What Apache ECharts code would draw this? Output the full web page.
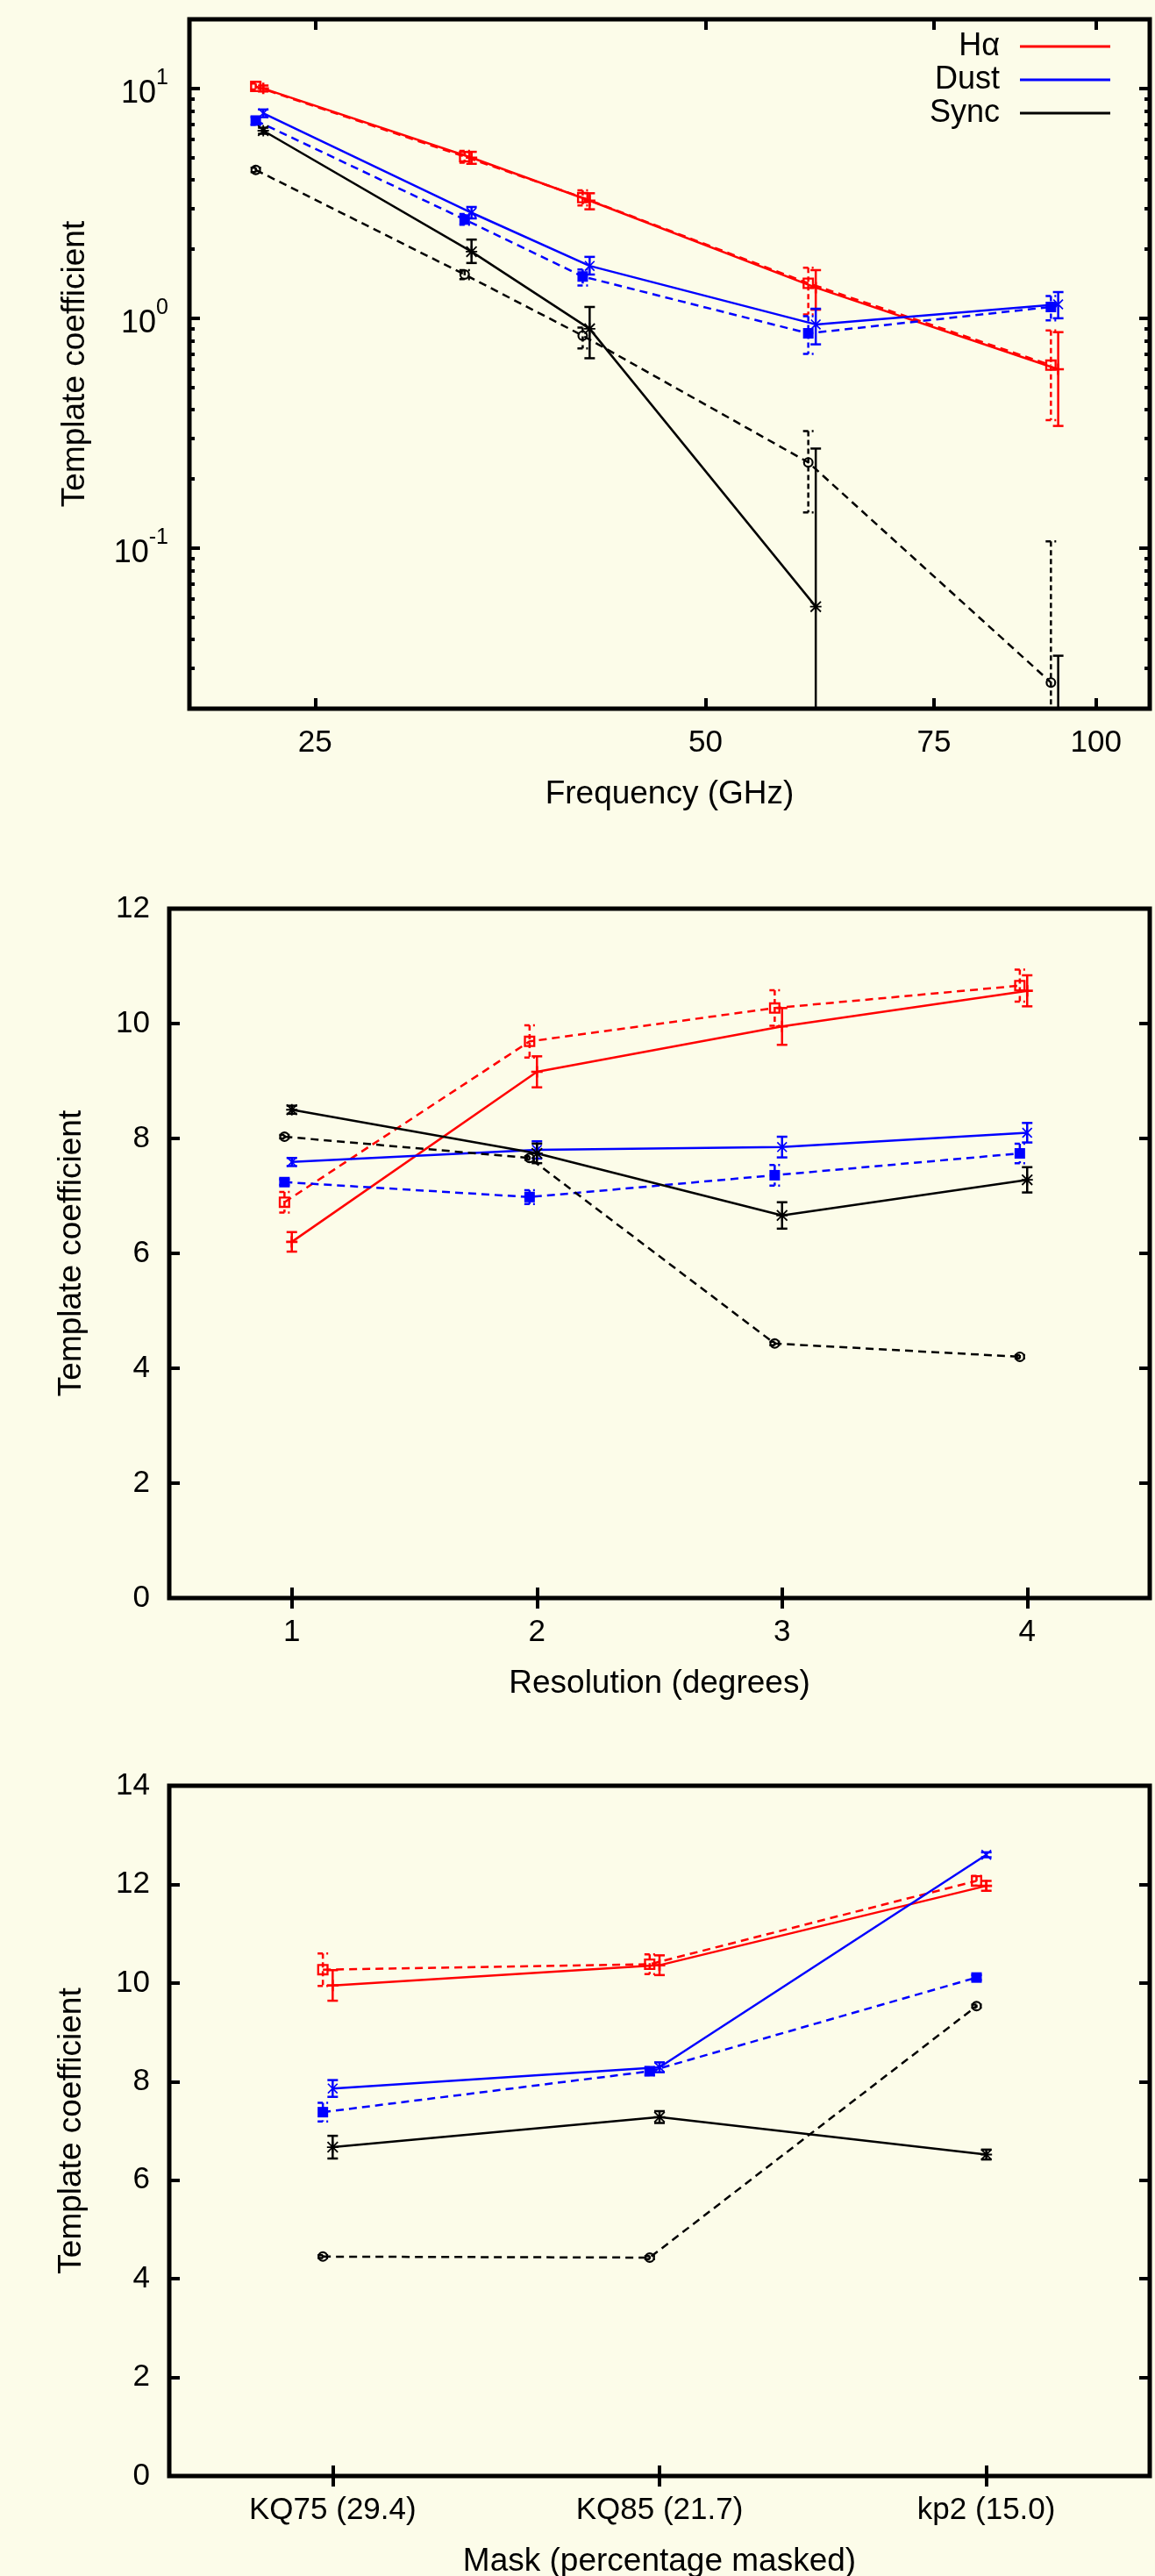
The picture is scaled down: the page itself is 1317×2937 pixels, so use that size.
<!DOCTYPE html>
<html>
<head>
<meta charset="utf-8">
<script src="https://cdn.jsdelivr.net/npm/echarts@6/dist/echarts.min.js"></script>
<style>
html, body { margin: 0; padding: 0; background: #fcfce9; }
#chart { width: 1317px; height: 2937px; }
</style>
</head>
<body>
<div id="chart"></div>
<script>
// panel 1: coefficient vs frequency (solid = main fit, dashed = second fit)
var freqSolid = [22.8, 33.0, 40.7, 60.8, 93.5];
var freqDashed = [22.5, 32.6, 40.2, 60.0, 92.3];
var freqTicks = [25, 50, 75, 100];
var coefTicks = [0.1, 1, 10];
var coefMinorTicks = [0.03, 0.04, 0.05, 0.06, 0.07, 0.08, 0.09,
                      0.2, 0.3, 0.4, 0.5, 0.6, 0.7, 0.8, 0.9,
                      2, 3, 4, 5, 6, 7, 8, 9];

var haFreq = [10.0, 5.0, 3.25, 1.36, 0.60];
var haFreqLo = [9.7, 4.7, 2.98, 1.09, 0.34];
var haFreqHi = [10.3, 5.3, 3.5, 1.62, 0.87];
var haFreqB = [10.2, 5.05, 3.35, 1.42, 0.625];
var haFreqBLo = [9.9, 4.75, 3.1, 1.04, 0.36];
var haFreqBHi = [10.5, 5.35, 3.6, 1.66, 0.885];

var dustFreq = [7.8, 2.88, 1.69, 0.94, 1.15];
var dustFreqLo = [7.5, 2.72, 1.55, 0.77, 1.0];
var dustFreqHi = [8.1, 3.05, 1.85, 1.10, 1.30];
var dustFreqB = [7.25, 2.69, 1.52, 0.86, 1.12];
var dustFreqBLo = [6.95, 2.55, 1.39, 0.70, 0.98];
var dustFreqBHi = [7.5, 2.84, 1.63, 1.02, 1.25];

var syncFreq = [6.55, 1.95, 0.90, 0.0556, null];
var syncFreqLo = [6.35, 1.74, 0.67, 0.005, 0.005];
var syncFreqHi = [6.75, 2.2, 1.12, 0.271, 0.034];
var syncFreqB = [4.42, 1.55, 0.84, 0.236, 0.026];
var syncFreqBLo = [4.32, 1.48, 0.74, 0.143, 0.005];
var syncFreqBHi = [4.52, 1.62, 0.91, 0.323, 0.107];

// panel 2: coefficient vs resolution
var resSolid = [1, 2, 3, 4];
var resDashed = [0.97, 1.97, 2.97, 3.97];
var resTicks = [1, 2, 3, 4];
var haRes = [6.2, 9.16, 9.95, 10.57];
var haResErr = [0.17, 0.27, 0.32, 0.27];
var haResB = [6.89, 9.69, 10.27, 10.66];
var haResBErr = [0.18, 0.28, 0.31, 0.28];
var dustRes = [7.59, 7.80, 7.85, 8.10];
var dustResErr = [0.07, 0.15, 0.18, 0.17];
var dustResB = [7.24, 6.98, 7.36, 7.74];
var dustResBErr = [0.05, 0.12, 0.18, 0.17];
var syncRes = [8.50, 7.74, 6.66, 7.28];
var syncResErr = [0.07, 0.17, 0.23, 0.22];
var syncResB = [8.03, 7.66, 4.43, 4.20];
var syncResBErr = [0.03, 0.03, 0.03, 0.03];

// panel 3: coefficient vs mask
var maskLabels = ['KQ75 (29.4)', 'KQ85 (21.7)', 'kp2 (15.0)'];
var maskSolid = [1, 2, 3];
var maskDashed = [0.97, 1.97, 2.97];
var haMask = [9.95, 10.36, 11.97];
var haMaskErr = [0.31, 0.2, 0.1];
var haMaskB = [10.27, 10.38, 12.07];
var haMaskBErr = [0.33, 0.2, 0.1];
var dustMask = [7.86, 8.29, 12.6];
var dustMaskErr = [0.17, 0.1, 0.05];
var dustMaskB = [7.38, 8.21, 10.11];
var dustMaskBErr = [0.19, 0.08, 0.05];
var syncMask = [6.67, 7.28, 6.52];
var syncMaskErr = [0.23, 0.12, 0.1];
var syncMaskB = [4.45, 4.43, 9.53];
var syncMaskBErr = [0.03, 0.03, 0.03];

var RED = '#ff0000', BLUE = '#0000ff', BLACK = '#000000';
var FONT = '"Liberation Sans", Arial, Helvetica, sans-serif';
var BG = '#fcfce9';

// gnuplot-like point types
var PLUS = 'path://M4,0H6V10H4Z M0,4H10V6H0Z';
var CROSS = 'path://M0,1L1,0L10,9L9,10Z M9,0L10,1L1,10L0,9Z';
var STAR = 'path://M4.3,0H5.7V10H4.3Z M0,4.3H10V5.7H0Z M0,1L1,0L10,9L9,10Z M9,0L10,1L1,10L0,9Z';
var OPEN_SQ = 'path://M0,0H10V10H0Z M1.8,1.8V8.2H8.2V1.8Z';
var OPEN_CIRC = 'path://M5,0A5,5 0 1,1 5,10A5,5 0 1,1 5,0Z M5,1.8A3.2,3.2 0 1,0 5,8.2A3.2,3.2 0 1,0 5,1.8Z';

var textBase = { fontFamily: FONT, fontSize: 37, color: '#000' };

function zip(xs, ys) {
    return xs.map(function (x, i) { return [x, ys[i]]; });
}
function minus(v, e) { return v.map(function (a, i) { return a - e[i]; }); }
function plus(v, e) { return v.map(function (a, i) { return a + e[i]; }); }

function lineSeries(name, xs, ys, g, yIdx, color, dashed, symbol, size) {
    return {
        name: name, type: 'line', xAxisIndex: 2 * g, yAxisIndex: yIdx,
        data: zip(xs, ys),
        symbol: symbol, symbolSize: size || 13,
        itemStyle: { color: color },
        lineStyle: { color: color, width: 2.5, type: dashed ? [9, 6] : 'solid' },
        silent: true, z: 3
    };
}

function errorSeries(xs, lo, hi, g, yIdx, color, dashed) {
    return {
        type: 'custom', xAxisIndex: 2 * g, yAxisIndex: yIdx,
        clip: true, silent: true, z: 2,
        encode: { x: 0, y: [1, 2] },
        data: xs.map(function (x, i) { return [x, lo[i], hi[i]]; }),
        renderItem: function (params, api) {
            var top = api.coord([api.value(0), api.value(2)]);
            var bot = api.coord([api.value(0), api.value(1)]);
            var w = 6;
            var style = { stroke: color, lineWidth: 2.5, lineDash: dashed ? [6, 4] : null, fill: null };
            return {
                type: 'group',
                children: [
                    { type: 'line', shape: { x1: top[0], y1: top[1], x2: bot[0], y2: bot[1] }, style: style },
                    { type: 'line', shape: { x1: top[0] - w, y1: top[1], x2: top[0] + w, y2: top[1] }, style: style },
                    { type: 'line', shape: { x1: bot[0] - w, y1: bot[1], x2: bot[0] + w, y2: bot[1] }, style: style }
                ]
            };
        }
    };
}

function ticks(len, vals) {
    var t = { show: true, inside: true, length: len, lineStyle: { color: '#000', width: 4 } };
    if (vals) t.customValues = vals;
    return t;
}

function logY(grid, pos, tickVals, len, withLabel) {
    var ax = {
        gridIndex: grid, type: 'log', logBase: 10, min: 0.02, max: 20, position: pos,
        axisLine: { show: false }, splitLine: { show: false },
        axisTick: ticks(len, tickVals),
        axisLabel: { show: false }
    };
    if (withLabel) {
        ax.axisLabel = {
            show: true, customValues: coefTicks, margin: 24,
            fontFamily: FONT, color: '#000',
            formatter: function (v) {
                return '{b|10}{s|' + Math.round(Math.log(v) / Math.LN10) + '}';
            },
            rich: {
                b: { fontFamily: FONT, fontSize: 36, lineHeight: 48, verticalAlign: 'bottom', color: '#000' },
                s: { fontFamily: FONT, fontSize: 25, lineHeight: 25, verticalAlign: 'top', color: '#000' }
            }
        };
        ax.name = 'Template coefficient';
        ax.nameLocation = 'middle';
        ax.nameGap = 112;
        ax.nameTextStyle = textBase;
    }
    return ax;
}

function linY(grid, pos, max, withLabel) {
    var ax = {
        gridIndex: grid, type: 'value', min: 0, max: max, interval: 2, position: pos,
        axisLine: { show: false }, splitLine: { show: false },
        axisTick: ticks(12),
        axisLabel: { show: false }
    };
    if (withLabel) {
        ax.axisLabel = { show: true, margin: 22, fontFamily: FONT, fontSize: 35, color: '#000' };
        ax.name = 'Template coefficient';
        ax.nameLocation = 'middle';
        ax.nameGap = 93;
        ax.nameTextStyle = textBase;
    }
    return ax;
}

function xAx(grid, pos, type, min, max, tickVals, name, fmt) {
    var ax = {
        gridIndex: grid, type: type, min: min, max: max, position: pos,
        axisLine: { show: false }, splitLine: { show: false },
        axisTick: ticks(12, tickVals),
        axisLabel: { show: false }
    };
    if (type === 'log') ax.logBase = 10;
    if (name) {
        ax.axisLabel = {
            show: true, customValues: tickVals, margin: 22,
            fontFamily: FONT, fontSize: 35, color: '#000',
            formatter: fmt || function (v) { return String(v); }
        };
        ax.name = name;
        ax.nameLocation = 'middle';
        ax.nameGap = 79;
        ax.nameTextStyle = textBase;
    }
    return ax;
}

var gridStyle = { show: true, borderColor: '#000', borderWidth: 5, backgroundColor: 'transparent', outerBoundsMode: 'none' };

var series = [
    // panel 1
    errorSeries(freqSolid, haFreqLo, haFreqHi, 0, 0, RED, false),
    errorSeries(freqDashed, haFreqBLo, haFreqBHi, 0, 0, RED, true),
    errorSeries(freqSolid, dustFreqLo, dustFreqHi, 0, 0, BLUE, false),
    errorSeries(freqDashed, dustFreqBLo, dustFreqBHi, 0, 0, BLUE, true),
    errorSeries(freqSolid, syncFreqLo, syncFreqHi, 0, 0, BLACK, false),
    errorSeries(freqDashed, syncFreqBLo, syncFreqBHi, 0, 0, BLACK, true),
    lineSeries('Hα', freqSolid, haFreq, 0, 0, RED, false, PLUS, 13),
    lineSeries('Hα (2)', freqDashed, haFreqB, 0, 0, RED, true, OPEN_SQ, 13),
    lineSeries('Dust', freqSolid, dustFreq, 0, 0, BLUE, false, CROSS, 12),
    lineSeries('Dust (2)', freqDashed, dustFreqB, 0, 0, BLUE, true, 'rect', 12),
    lineSeries('Sync', freqSolid, syncFreq, 0, 0, BLACK, false, STAR, 13),
    lineSeries('Sync (2)', freqDashed, syncFreqB, 0, 0, BLACK, true, OPEN_CIRC, 12),
    // panel 2
    errorSeries(resSolid, minus(haRes, haResErr), plus(haRes, haResErr), 1, 4, RED, false),
    errorSeries(resDashed, minus(haResB, haResBErr), plus(haResB, haResBErr), 1, 4, RED, true),
    errorSeries(resSolid, minus(dustRes, dustResErr), plus(dustRes, dustResErr), 1, 4, BLUE, false),
    errorSeries(resDashed, minus(dustResB, dustResBErr), plus(dustResB, dustResBErr), 1, 4, BLUE, true),
    errorSeries(resSolid, minus(syncRes, syncResErr), plus(syncRes, syncResErr), 1, 4, BLACK, false),
    errorSeries(resDashed, minus(syncResB, syncResBErr), plus(syncResB, syncResBErr), 1, 4, BLACK, true),
    lineSeries('Hα', resSolid, haRes, 1, 4, RED, false, PLUS, 13),
    lineSeries('Hα (2)', resDashed, haResB, 1, 4, RED, true, OPEN_SQ, 13),
    lineSeries('Dust', resSolid, dustRes, 1, 4, BLUE, false, CROSS, 12),
    lineSeries('Dust (2)', resDashed, dustResB, 1, 4, BLUE, true, 'rect', 12),
    lineSeries('Sync', resSolid, syncRes, 1, 4, BLACK, false, STAR, 13),
    lineSeries('Sync (2)', resDashed, syncResB, 1, 4, BLACK, true, OPEN_CIRC, 12),
    // panel 3
    errorSeries(maskSolid, minus(haMask, haMaskErr), plus(haMask, haMaskErr), 2, 6, RED, false),
    errorSeries(maskDashed, minus(haMaskB, haMaskBErr), plus(haMaskB, haMaskBErr), 2, 6, RED, true),
    errorSeries(maskSolid, minus(dustMask, dustMaskErr), plus(dustMask, dustMaskErr), 2, 6, BLUE, false),
    errorSeries(maskDashed, minus(dustMaskB, dustMaskBErr), plus(dustMaskB, dustMaskBErr), 2, 6, BLUE, true),
    errorSeries(maskSolid, minus(syncMask, syncMaskErr), plus(syncMask, syncMaskErr), 2, 6, BLACK, false),
    errorSeries(maskDashed, minus(syncMaskB, syncMaskBErr), plus(syncMaskB, syncMaskBErr), 2, 6, BLACK, true),
    lineSeries('Hα', maskSolid, haMask, 2, 6, RED, false, PLUS, 13),
    lineSeries('Hα (2)', maskDashed, haMaskB, 2, 6, RED, true, OPEN_SQ, 13),
    lineSeries('Dust', maskSolid, dustMask, 2, 6, BLUE, false, CROSS, 12),
    lineSeries('Dust (2)', maskDashed, dustMaskB, 2, 6, BLUE, true, 'rect', 12),
    lineSeries('Sync', maskSolid, syncMask, 2, 6, BLACK, false, STAR, 13),
    lineSeries('Sync (2)', maskDashed, syncMaskB, 2, 6, BLACK, true, OPEN_CIRC, 12)
];

var chart = echarts.init(document.getElementById('chart'));

var option = {
    backgroundColor: BG,
    animation: false,
    textStyle: { fontFamily: FONT },
    legend: {
        data: ['Hα', 'Dust', 'Sync'],
        orient: 'vertical', align: 'right',
        right: 51, top: 34, padding: 0,
        icon: 'rect', itemWidth: 103, itemHeight: 3, itemGap: 0,
        selectedMode: false,
        textStyle: { fontFamily: FONT, fontSize: 36, color: '#000', lineHeight: 38, padding: [0, 18, 0, 0] }
    },
    grid: [
        Object.assign({ left: 216, top: 22, width: 1095, height: 786 }, gridStyle),
        Object.assign({ left: 193, top: 1036, width: 1118, height: 786 }, gridStyle),
        Object.assign({ left: 193, top: 2036, width: 1118, height: 787 }, gridStyle)
    ],
    xAxis: [
        xAx(0, 'bottom', 'log', 20, 110, freqTicks, 'Frequency (GHz)'),
        xAx(0, 'top', 'log', 20, 110, freqTicks),
        xAx(1, 'bottom', 'value', 0.5, 4.5, resTicks, 'Resolution (degrees)'),
        xAx(1, 'top', 'value', 0.5, 4.5, resTicks),
        xAx(2, 'bottom', 'value', 0.5, 3.5, maskSolid, 'Mask (percentage masked)',
            function (v) { return maskLabels[Math.round(v) - 1]; }),
        xAx(2, 'top', 'value', 0.5, 3.5, maskSolid)
    ],
    yAxis: [
        logY(0, 'left', coefTicks, 12, true),
        logY(0, 'right', coefTicks, 12, false),
        logY(0, 'left', coefMinorTicks, 6, false),
        logY(0, 'right', coefMinorTicks, 6, false),
        linY(1, 'left', 12, true),
        linY(1, 'right', 12, false),
        linY(2, 'left', 14, true),
        linY(2, 'right', 14, false)
    ],
    series: series
};

chart.setOption(option);
</script>
</body>
</html>
